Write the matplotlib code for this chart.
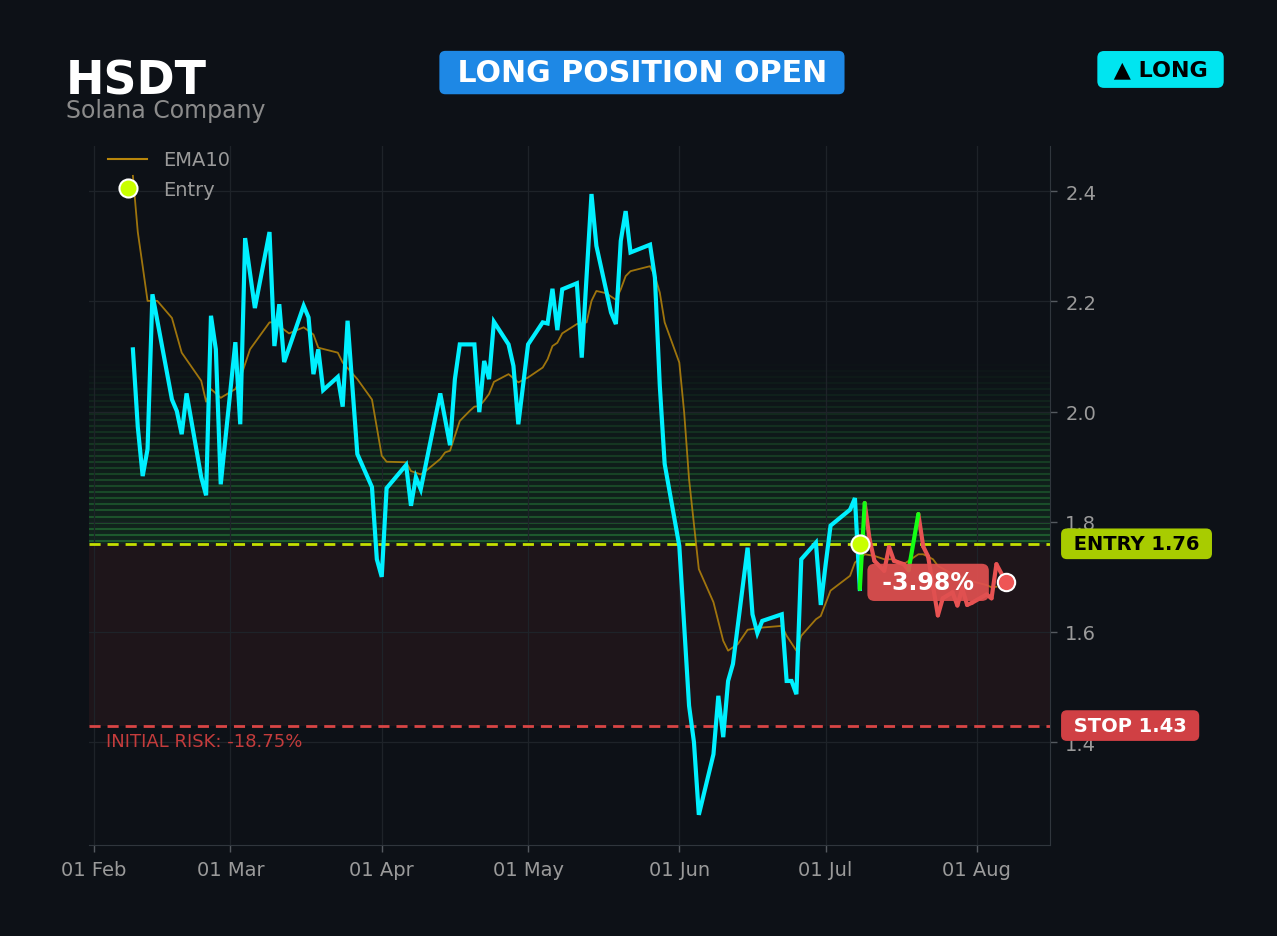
import numpy as np
import matplotlib
matplotlib.use("Agg")
import matplotlib.pyplot as plt
import matplotlib.dates as mdates
import matplotlib.transforms as mtransforms
from matplotlib.lines import Line2D

# --- data ---
ticker = "HSDT"
company = "Solana Company"
start = np.datetime64("2025-02-01")

# days since 1 Feb 2025 / close price
price_day = [8, 9, 10, 11, 12, 16, 17, 18, 19, 22, 23, 24, 25, 26, 29, 30, 31, 33,
             36, 37, 38, 39, 43, 44, 45, 46, 47, 50, 51, 52, 54, 57, 58, 59, 60,
             64, 65, 66, 67, 71, 73, 74, 75, 78, 79, 80, 81, 82, 85, 86, 87, 89,
             92, 93, 94, 95, 96, 99, 100, 102, 103, 106, 107, 108, 109, 110, 114,
             115, 116, 117, 120, 122, 123, 124, 127, 128, 129, 130, 131, 134, 135,
             136, 137, 141, 142, 143, 144, 145, 148, 149, 150, 151, 155, 156, 157,
             158, 159, 160, 162, 163, 164, 166, 167, 169, 170, 171, 173, 174, 176,
             177, 178, 179, 180, 183, 184, 185, 187]
price_val = [2.113, 1.972, 1.883, 1.932, 2.213, 2.022, 2.001, 1.959, 2.033, 1.881,
             1.848, 2.174, 2.113, 1.868, 2.126, 1.977, 2.315, 2.188, 2.326, 2.119,
             2.195, 2.090, 2.192, 2.171, 2.068, 2.113, 2.039, 2.063, 2.009, 2.165,
             1.923, 1.863, 1.732, 1.700, 1.861, 1.903, 1.829, 1.881, 1.859, 2.033,
             1.939, 2.059, 2.122, 2.122, 1.999, 2.092, 2.059, 2.163, 2.122, 2.083,
             1.977, 2.122, 2.162, 2.160, 2.223, 2.148, 2.222, 2.233, 2.098, 2.395,
             2.301, 2.180, 2.159, 2.310, 2.364, 2.289, 2.303, 2.243, 2.047, 1.905,
             1.756, 1.466, 1.400, 1.268, 1.378, 1.484, 1.409, 1.511, 1.542, 1.753,
             1.632, 1.598, 1.620, 1.632, 1.511, 1.511, 1.487, 1.732, 1.762, 1.649,
             1.723, 1.793, 1.822, 1.843, 1.678,
             1.834, 1.768, 1.729, 1.711, 1.754, 1.729, 1.723, 1.712, 1.814, 1.755,
             1.737, 1.630, 1.661, 1.672, 1.648, 1.679, 1.649, 1.653, 1.668, 1.661,
             1.723, 1.690]

ema_day = [8, 9, 10, 11, 13, 16, 18, 22, 23, 24, 26, 29, 30, 32, 36, 37, 40, 43, 45,
           46, 50, 51, 54, 57, 59, 60, 64, 65, 67, 68, 71, 72, 73, 75, 77, 78, 79, 80,
           81, 82, 85, 87, 89, 92, 93, 94, 95, 96, 99, 101, 102, 103, 105, 107, 108,
           109, 110, 114, 115, 116, 117, 120, 121, 122, 124, 127, 129, 130, 132, 134,
           137, 141, 142, 144, 145, 148, 149, 151, 155, 156, 158, 160, 162, 164, 166,
           167, 169, 170, 172, 173, 176, 180, 183, 184, 185]
ema_val = [2.428, 2.326, 2.264, 2.201, 2.201, 2.170, 2.107, 2.056, 2.018, 2.041,
           2.025, 2.041, 2.060, 2.113, 2.162, 2.162, 2.142, 2.153, 2.140, 2.116,
           2.107, 2.089, 2.059, 2.022, 1.920, 1.909, 1.908, 1.892, 1.886, 1.892,
           1.914, 1.926, 1.929, 1.983, 2.001, 2.009, 2.010, 2.020, 2.032, 2.054,
           2.068, 2.053, 2.062, 2.080, 2.095, 2.119, 2.125, 2.142, 2.159, 2.162,
           2.201, 2.219, 2.215, 2.203, 2.222, 2.246, 2.255, 2.264, 2.246, 2.216,
           2.162, 2.089, 1.998, 1.877, 1.714, 1.654, 1.584, 1.566, 1.578, 1.604,
           1.608, 1.611, 1.593, 1.566, 1.593, 1.623, 1.629, 1.675, 1.702, 1.726,
           1.741, 1.738, 1.732, 1.732, 1.723, 1.729, 1.741, 1.741, 1.732, 1.720,
           1.705, 1.692, 1.685, 1.681, 1.682]

entry_day = 157
entry_price = 1.76
stop_price = 1.43
target_price = 2.09   # top of the green zone

# --- colours ---
BG = "#0d1117"
CYAN = "#00f0ff"
UP = "#14ff14"
DOWN = "#e85252"
EMA_C = "#b8860b"
ENTRY_C = "#c5e000"
STOP_C = "#d94545"
GRID_C = "#1e2329"
TXT_C = "#9a9a9a"

def to_dates(days):
    return start + np.array(days).astype("timedelta64[D]")

px = to_dates(price_day)
pv = np.array(price_val)
ex = to_dates(ema_day)
k = price_day.index(entry_day)
current = price_val[-1]
pnl = (current / entry_price - 1) * 100
risk = (stop_price / entry_price - 1) * 100

fig = plt.figure(figsize=(12.77, 9.37), dpi=100, facecolor=BG)
ax = fig.add_axes([0.0697, 0.097, 0.7526, 0.746])
ax.set_facecolor(BG)

# zones
ax.axhspan(stop_price, entry_price, color="#e64646", alpha=0.08, lw=0, zorder=0)
n_band = 30
step = (target_price - entry_price) / n_band
for i in range(n_band):
    lo = entry_price + i * step
    f = 1 - i / n_band
    ax.axhspan(lo, lo + step, color="#2ea043", alpha=0.14 * f, lw=0, zorder=0)
    ax.axhline(lo + step * 0.5, color="#2ea043", alpha=0.45 * f, lw=1.5, zorder=0.5)

ax.grid(True, color=GRID_C, lw=0.9, zorder=0.6)
ax.set_axisbelow(True)

ax.axhline(entry_price, color=ENTRY_C, lw=2, ls=(0, (4, 2.5)), zorder=2)
ax.axhline(stop_price, color=STOP_C, lw=2, ls=(0, (4, 2.5)), zorder=2)

ax.plot(ex, ema_val, color=EMA_C, lw=1.3, alpha=0.85, zorder=3)
ax.plot(px[:k + 1], pv[:k + 1], color=CYAN, lw=3, zorder=4, solid_joinstyle="miter")
for i in range(k, len(pv) - 1):
    up = pv[i + 1] > pv[i] and pv[i + 1] > entry_price
    ax.plot(px[i:i + 2], pv[i:i + 2], color=UP if up else DOWN, lw=3,
            solid_capstyle="round", zorder=5 if up else 4.5)

ax.plot(to_dates([entry_day]), [entry_price], "o", ms=13, mfc="#c8ff00",
        mec="white", mew=1.5, zorder=7)
ax.plot(px[-1:], [current], "o", ms=12.5, mfc="#ee5555", mec="white", mew=1.5, zorder=7)

ax.text(to_dates([price_day[-1] - 16])[0], current, f" {pnl:.2f}% ", color="white",
        fontsize=17, fontweight="bold", ha="center", va="center", zorder=8,
        bbox=dict(boxstyle="round,pad=0.28,rounding_size=0.3", fc="#e05050",
                  ec="none", alpha=0.92))

trans = mtransforms.blended_transform_factory(ax.transAxes, ax.transData)
ax.text(1.0175, entry_price, " ENTRY %.2f " % entry_price, transform=trans,
        color="black", fontsize=14, fontweight="bold", ha="left", va="center",
        clip_on=False, bbox=dict(boxstyle="round,pad=0.3,rounding_size=0.3",
                                 fc="#a8cc00", ec="none"))
ax.text(1.0175, stop_price, " STOP %.2f " % stop_price, transform=trans,
        color="white", fontsize=14, fontweight="bold", ha="left", va="center",
        clip_on=False, bbox=dict(boxstyle="round,pad=0.3,rounding_size=0.3",
                                 fc="#d04044", ec="none"))
ax.text(0.018, stop_price * 0.98, f"INITIAL RISK: {risk:.2f}%", transform=trans,
        color="#c43c3c", fontsize=13, ha="left", va="center")

# axes styling
ax.set_xlim(to_dates([-1])[0], to_dates([196])[0])
ax.set_ylim(1.213, 2.482)
ax.set_yticks([1.4, 1.6, 1.8, 2.0, 2.2, 2.4])
ax.yaxis.tick_right()
ax.xaxis.set_major_locator(mdates.MonthLocator())
ax.xaxis.set_major_formatter(mdates.DateFormatter("%d %b"))
ax.tick_params(colors=TXT_C, labelsize=14, length=5, width=1, pad=6)
ax.tick_params(axis="both", color="#555a60")
for side in ["left", "top"]:
    ax.spines[side].set_visible(False)
for side in ["bottom", "right"]:
    ax.spines[side].set_color("#30363d")

handles = [Line2D([], [], color=EMA_C, lw=1.5),
           Line2D([], [], ls="none", marker="o", ms=13, mfc="#c8ff00", mec="white", mew=1.5)]
ax.legend(handles, ["EMA10", "Entry"], loc="upper left", frameon=False,
          fontsize=14, labelcolor=TXT_C, bbox_to_anchor=(0.012, 1.005),
          borderaxespad=0, labelspacing=0.55)

# header
fig.text(0.0517, 0.8995, ticker, color="white", fontsize=33, fontweight="bold",
         va="baseline")
fig.text(0.0517, 0.8745, company, color="#8b8b8b", fontsize=17, va="baseline")
fig.text(0.5027, 0.9215, " LONG POSITION OPEN ", color="white", fontsize=21.6,
         fontweight="bold", ha="center", va="center",
         bbox=dict(boxstyle="round,pad=0.24,rounding_size=0.2", fc="#1e88e5", ec="none"))
fig.text(0.9088, 0.9248, " \u25b2 LONG ", color="black", fontsize=16,
         fontweight="bold", ha="center", va="center",
         bbox=dict(boxstyle="round,pad=0.38,rounding_size=0.3", fc="#00e5f0", ec="none"))

fig.savefig("out.png", dpi=100, facecolor=BG)
